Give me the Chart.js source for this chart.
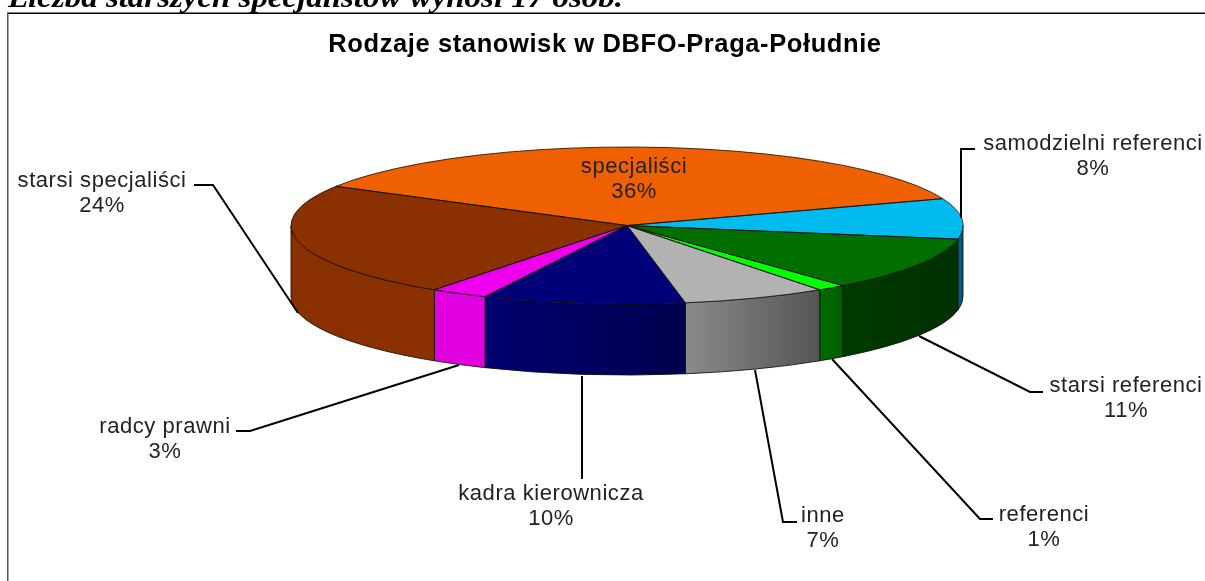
<!DOCTYPE html>
<html><head><meta charset="utf-8">
<script src="https://cdn.jsdelivr.net/npm/chart.js@4/dist/chart.umd.min.js"></script>
<style>
html,body{margin:0;padding:0;background:#fff;width:1205px;height:581px;overflow:hidden}
#wrap{position:relative;width:1205px;height:581px;overflow:hidden}
#heading{position:absolute;left:8px;top:-18.5px;height:30px;font:italic bold 30px "Liberation Serif",serif;color:#000;white-space:nowrap;line-height:30px;transform:scaleX(1.098);transform-origin:left top}
canvas{position:absolute;left:0;top:0}
</style></head><body>
<div id="wrap">
<canvas id="c" width="1205" height="581"></canvas>
<div id="heading">Liczba starszych specjalistów wynosi 17 osób.</div>
</div>
<script>
const categories = ['specjaliści','samodzielni referenci','starsi referenci','referenci','inne','kadra kierownicza','radcy prawni','starsi specjaliści'];
const headcounts = [26,6,8,1,5,7,2,17];
const percentLabels = ['36%','8%','11%','1%','7%','10%','3%','24%'];
const topColors = ['#ee6000','#00bbee','#006f00','#00ff00','#b2b2b2','#000078','#ee00ee','#8b3000'];
const wallLeft = ['#a04400','#006a90','#003a00','#006c00','#8a8a8a','#000070','#e000e0','#8a3000'];
const wallRight = ['#a04400','#005070','#003000','#005c00','#555555','#000050','#e000e0','#8b3000'];
const titleText = 'Rodzaje stanowisk w DBFO-Praga-Południe';

// Layout of annotations (label centre, first baseline, leader polyline)
const labelX = [634,1093,1126,1044,823,551,165,102];
const labelY = [173,150,392,521,522,500,433,187];
const leaders = [
  null,
  [[961,218],[961,149],[975,149]],
  [[919,336],[1030,392],[1043,392]],
  [[832,359],[980,519],[993,519]],
  [[755,370],[783,522],[797,522]],
  [[582,376],[582,479]],
  [[459,365],[250,431],[236,431]],
  [[298,313],[213,185],[194,185]]
];
const PIE_CX = 627, PIE_XR = 336, DEPTH = 71;

function ellipseCtx(arc){ return {cx:PIE_CX, cy:arc.y, rx:PIE_XR, ry:arc.outerRadius}; }

const pie3d = {
  id:'pie3d',
  beforeDraw(chart){ chart.ctx.letterSpacing='0.6px'; },
  beforeDatasetsDraw(chart){
    const ctx = chart.ctx, arcs = chart.getDatasetMeta(0).data;
    ctx.letterSpacing='0px';
    arcs.forEach((arc,i)=>{
      const e = ellipseCtx(arc);
      for (const off of [-2*Math.PI,0,2*Math.PI]){
        const a0 = Math.max(arc.startAngle+off,0), a1 = Math.min(arc.endAngle+off,Math.PI);
        if (a1<=a0) continue;
        const xa = e.cx+e.rx*Math.cos(a0), xb = e.cx+e.rx*Math.cos(a1);
        const g = ctx.createLinearGradient(Math.min(xa,xb),0,Math.max(xa,xb)+0.01,0);
        g.addColorStop(0,wallLeft[i]); g.addColorStop(1,wallRight[i]);
        ctx.beginPath();
        ctx.ellipse(e.cx,e.cy,e.rx,e.ry,0,a0,a1,false);
        ctx.ellipse(e.cx,e.cy+DEPTH,e.rx,e.ry,0,a1,a0,true);
        ctx.closePath();
        ctx.fillStyle = g; ctx.fill();
        ctx.strokeStyle = 'rgba(20,15,10,0.85)'; ctx.lineWidth = 1; ctx.stroke();
      }
    });
    const a = arcs[0];
    ctx.save();
    ctx.translate(PIE_CX,0);
    ctx.scale(PIE_XR/a.outerRadius,1);
    ctx.translate(-a.x,0);
  },
  afterDatasetsDraw(chart){
    const ctx = chart.ctx, arcs = chart.getDatasetMeta(0).data;
    ctx.restore();
    arcs.forEach(arc=>{
      const e = ellipseCtx(arc);
      ctx.beginPath();
      ctx.moveTo(e.cx,e.cy);
      ctx.ellipse(e.cx,e.cy,e.rx,e.ry,0,arc.startAngle,arc.endAngle,false);
      ctx.closePath();
      ctx.strokeStyle = 'rgba(20,15,10,0.8)'; ctx.lineWidth = 1; ctx.stroke();
    });
    ctx.fillStyle='#000'; ctx.fillRect(7,12.5,1198,1.5);
    ctx.fillStyle='#555'; ctx.fillRect(7,13,1.5,568);
    ctx.strokeStyle='#000'; ctx.lineWidth=2; ctx.lineJoin='miter';
    leaders.forEach(p=>{
      if(!p) return;
      ctx.beginPath(); p.forEach((q,k)=>k?ctx.lineTo(q[0],q[1]):ctx.moveTo(q[0],q[1])); ctx.stroke();
    });
    ctx.fillStyle='#222'; ctx.textAlign='center'; ctx.textBaseline='alphabetic';
    ctx.font='22px "Liberation Sans",Arial,sans-serif';
    ctx.letterSpacing='0.55px';
    categories.forEach((c,i)=>{
      ctx.fillText(c,labelX[i],labelY[i]);
      ctx.fillText(percentLabels[i],labelX[i],labelY[i]+25);
    });
    ctx.letterSpacing='0px';
  }
};

new Chart(document.getElementById('c'),{
  type:'pie',
  data:{labels:categories,datasets:[{data:headcounts,backgroundColor:topColors,borderWidth:0,hoverOffset:0}]},
  options:{
    responsive:false,animation:false,rotation:-60,
    events:[],
    layout:{padding:{left:5,right:0,top:0,bottom:277}},
    plugins:{
      legend:{display:false},tooltip:{enabled:false},
      title:{display:true,text:titleText,color:'#000',
        font:{family:'"Liberation Sans",Arial,sans-serif',size:25.5,weight:'bold',lineHeight:1.2},
        padding:{top:29.5,bottom:86.9}}
    }
  },
  plugins:[pie3d]
});
</script>
</body></html>
